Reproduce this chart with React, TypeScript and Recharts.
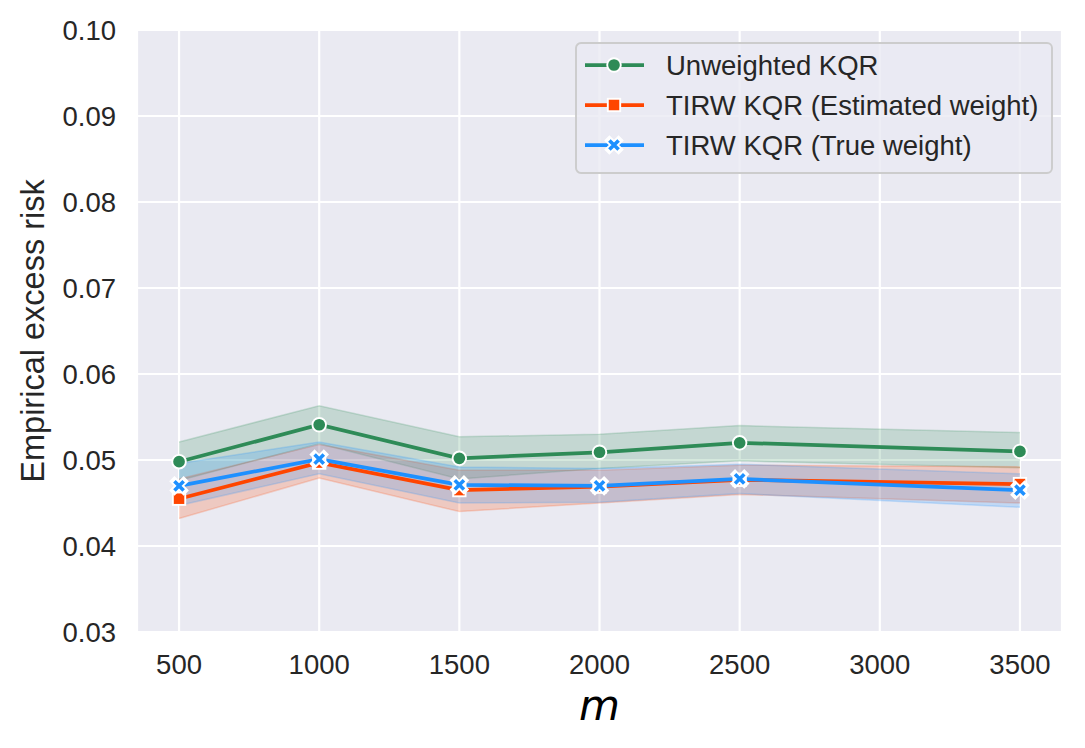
import React from "react";
import {
  ComposedChart,
  Line,
  Area,
  XAxis,
  YAxis,
  CartesianGrid,
  Label,
} from "recharts";

// sample sizes (no run at 3000)
const mValues = [500, 1000, 1500, 2000, 2500, 3500];

const unweighted = [0.0498, 0.0541, 0.0502, 0.0509, 0.052, 0.051];
const unweightedLo = [0.0476, 0.0519, 0.0478, 0.049, 0.0499, 0.0491];
const unweightedHi = [0.0521, 0.0563, 0.0527, 0.053, 0.054, 0.0532];

const estimated = [0.0455, 0.0497, 0.0465, 0.0469, 0.0477, 0.0472];
const estimatedLo = [0.0432, 0.0479, 0.044, 0.045, 0.046, 0.045];
const estimatedHi = [0.0478, 0.0518, 0.0488, 0.0488, 0.0494, 0.0492];

const trueW = [0.047, 0.0501, 0.0471, 0.047, 0.0478, 0.0465];
const trueLo = [0.0447, 0.0484, 0.045, 0.0451, 0.0461, 0.0445];
const trueHi = [0.0496, 0.0521, 0.0492, 0.049, 0.0495, 0.0484];

const xTicks = [500, 1000, 1500, 2000, 2500, 3000, 3500];
const yTicks = [0.03, 0.04, 0.05, 0.06, 0.07, 0.08, 0.09, 0.1];

const GREEN = "#2E8B57";
const RED = "#FF4500";
const BLUE = "#1E90FF";
const TEXT = "#262626";
const FONT = "'Liberation Sans', Arial, sans-serif";

const rows = mValues.map((m, i) => ({
  m,
  u: unweighted[i],
  uBand: [unweightedLo[i], unweightedHi[i]],
  e: estimated[i],
  eBand: [estimatedLo[i], estimatedHi[i]],
  t: trueW[i],
  tBand: [trueLo[i], trueHi[i]],
}));

function CircleMark({ cx, cy }: { cx: number; cy: number }) {
  return <circle cx={cx} cy={cy} r={6.8} fill={GREEN} stroke="#fff" strokeWidth={1.9} />;
}

function SquareMark({ cx, cy }: { cx: number; cy: number }) {
  return (
    <rect x={cx - 6.2} y={cy - 6.2} width={12.4} height={12.4} fill={RED} stroke="#fff" strokeWidth={1.9} />
  );
}

function XMark({ cx, cy }: { cx: number; cy: number }) {
  const s = 4.6;
  const d = `M${cx - s},${cy - s}L${cx + s},${cy + s}M${cx - s},${cy + s}L${cx + s},${cy - s}`;
  return (
    <g>
      <path d={d} stroke="#fff" strokeWidth={7.4} strokeLinecap="square" fill="none" />
      <path d={d} stroke={BLUE} strokeWidth={3.6} strokeLinecap="butt" fill="none" />
    </g>
  );
}

const legendItems = [
  { name: "Unweighted KQR", color: GREEN, mark: CircleMark },
  { name: "TIRW KQR (Estimated weight)", color: RED, mark: SquareMark },
  { name: "TIRW KQR (True weight)", color: BLUE, mark: XMark },
];

function LegendBox() {
  return (
    <svg
      width={480}
      height={134}
      style={{ position: "absolute", left: 574, top: 41 }}
    >
      <rect
        x={2}
        y={2}
        width={476}
        height={130}
        rx={5}
        fill="rgba(234,234,242,0.8)"
        stroke="#cccccc"
        strokeWidth={1.9}
      />
      {legendItems.map((it, i) => {
        const y = 24 + i * 40;
        const Mark = it.mark;
        return (
          <g key={it.name}>
            <line x1={11} x2={70} y1={y} y2={y} stroke={it.color} strokeWidth={3.75} />
            <Mark cx={40} cy={y} />
            <text x={92} y={y + 10} fontSize={27.5} fill={TEXT} fontFamily={FONT}>
              {it.name}
            </text>
          </g>
        );
      })}
    </svg>
  );
}

export default function App() {
  const tickStyle = { fontSize: 27.5, fill: TEXT, fontFamily: FONT };
  return (
    <div style={{ position: "absolute", left: 0, top: 0, width: 1085, height: 748, background: "#fff" }}>
      <ComposedChart
        width={1085}
        height={748}
        data={rows}
        margin={{ top: 30, right: 23, bottom: 56, left: 17 }}
      >
        <CartesianGrid fill="#EAEAF2" stroke="#ffffff" strokeWidth={2.2} />
        <XAxis
          dataKey="m"
          type="number"
          domain={[350, 3650]}
          ticks={xTicks}
          axisLine={false}
          tickLine={false}
          tickSize={0}
          tickMargin={22}
          height={60}
          tick={tickStyle}
          interval={0}
        >
          <Label
            content={(props: any) => {
              const vb = props.viewBox || {};
              return (
                <text
                  x={vb.x + vb.width / 2}
                  y={vb.y + 88}
                  textAnchor="middle"
                  fontSize={42}
                  fontStyle="italic"
                  fontFamily="'DejaVu Sans', sans-serif"
                  fill="#000"
                >
                  m
                </text>
              );
            }}
          />
        </XAxis>
        <YAxis
          type="number"
          domain={[0.03, 0.1]}
          ticks={yTicks}
          allowDataOverflow
          axisLine={false}
          tickLine={false}
          tickSize={0}
          tickMargin={21}
          width={120}
          tick={tickStyle}
          tickFormatter={(v: number) => v.toFixed(2)}
          interval={0}
        >
          <Label
            content={(props: any) => {
              const vb = props.viewBox || {};
              const cx = 44;
              const cy = vb.y + vb.height / 2;
              return (
                <text
                  x={cx}
                  y={cy}
                  transform={`rotate(-90 ${cx} ${cy})`}
                  textAnchor="middle"
                  fontSize={32.5}
                  fontFamily={FONT}
                  fill={TEXT}
                >
                  Empirical excess risk
                </text>
              );
            }}
          />
        </YAxis>

        <Area dataKey="uBand" type="linear" fill={GREEN} fillOpacity={0.2} stroke={GREEN} strokeOpacity={0.2} strokeWidth={1.5} dot={false} activeDot={false} isAnimationActive={false} />
        <Area dataKey="eBand" type="linear" fill={RED} fillOpacity={0.2} stroke={RED} strokeOpacity={0.2} strokeWidth={1.5} dot={false} activeDot={false} isAnimationActive={false} />
        <Area dataKey="tBand" type="linear" fill={BLUE} fillOpacity={0.2} stroke={BLUE} strokeOpacity={0.2} strokeWidth={1.5} dot={false} activeDot={false} isAnimationActive={false} />

        <Line dataKey="u" type="linear" stroke={GREEN} strokeWidth={3.75} activeDot={false} isAnimationActive={false}
          dot={(p: any) => <CircleMark key={`u${p.index}`} cx={p.cx} cy={p.cy} />} />
        <Line dataKey="e" type="linear" stroke={RED} strokeWidth={3.75} activeDot={false} isAnimationActive={false}
          dot={(p: any) => <SquareMark key={`e${p.index}`} cx={p.cx} cy={p.cy} />} />
        <Line dataKey="t" type="linear" stroke={BLUE} strokeWidth={3.75} activeDot={false} isAnimationActive={false}
          dot={(p: any) => <XMark key={`t${p.index}`} cx={p.cx} cy={p.cy} />} />
      </ComposedChart>
      <LegendBox />
    </div>
  );
}
